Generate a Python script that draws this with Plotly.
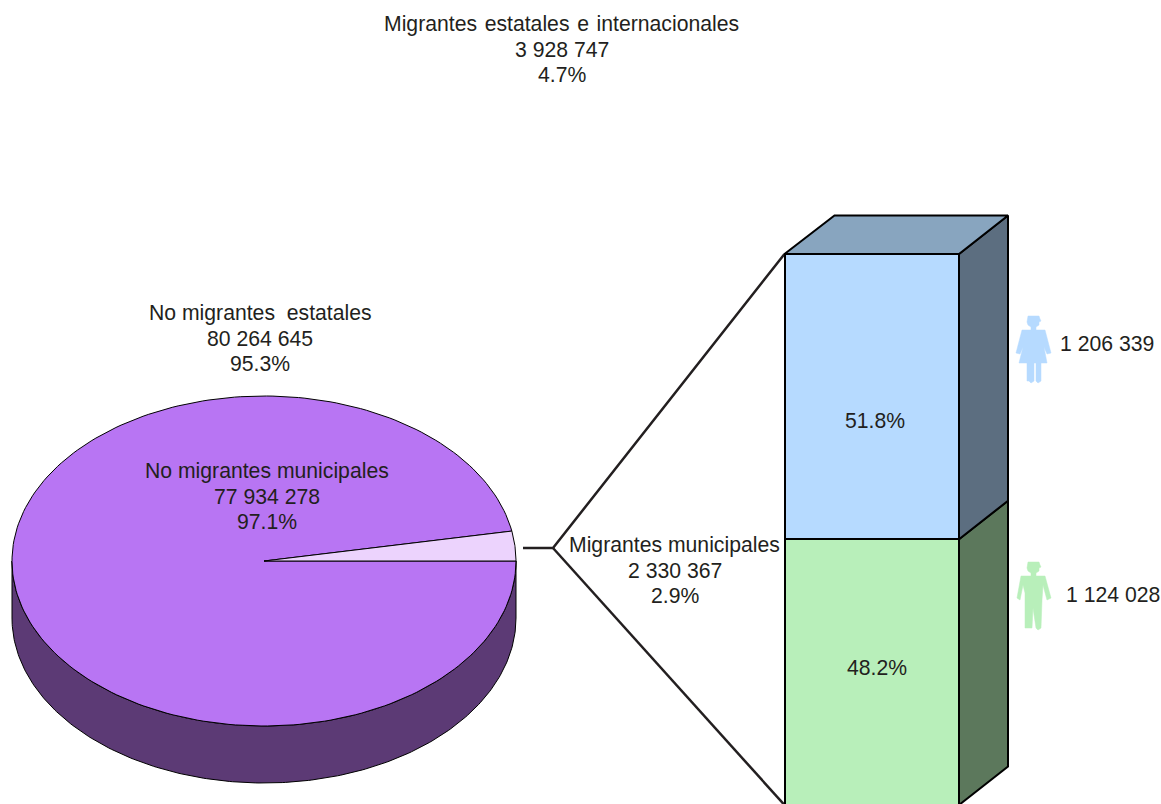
import numpy as np
import plotly.graph_objects as go

# Data
total_names = ["Migrantes estatales e internacionales", "No migrantes estatales"]
total_values = [3928747, 80264645]
pie_names = ["No migrantes municipales", "Migrantes municipales"]
pie_values = [77934278, 2330367]
bar_names = ["Hombres", "Mujeres"]
bar_values = [1124028, 1206339]

# Colors
ink = "#231F20"
pie_top = "#B875F3"
pie_sliver = "#ECD3FD"
pie_side = "#5C3A75"
bar_colors = ["#B8EFBA", "#B6DAFF"]
bar_sides = ["#5C785C", "#5C6E80"]
bar_cap = "#88A5BF"

# Page geometry, axes run in pixels
W, H = 1161, 804
cx, cy, rx, ry, depth = 264, 561, 252, 165, 57
bar_left, bar_right, bar_top, bar_bottom = 784.5, 959, 254, 805
off_x, off_y = 49, 38.5
fork_x, fork_y = 553, 548
line_gap = 25.5


def num(v):
    return f"{v:,}".replace(",", " ")


def pct(v, whole):
    return f"{100 * v / whole:.1f}%"


def ellipse(a0, a1, n=240, dy=0):
    t = np.radians(np.linspace(a0, a1, n))
    return cx + rx * np.cos(t), cy + dy - ry * np.sin(t)


def poly(x, y, fill, line=ink, width=1):
    return go.Scatter(x=list(x), y=list(y), mode="lines", fill="toself", fillcolor=fill,
                      line=dict(color=line, width=width), hoverinfo="skip", showlegend=False)


fig = go.Figure()

# pie wall
xa, ya = ellipse(180, 360)
xb, yb = ellipse(360, 180, dy=depth)
fig.add_trace(poly(np.r_[xa, xb, xa[0]], np.r_[ya, yb, ya[0]], pie_side, "#000000"))

# pie top, slices from the values
sliver_deg = 360 * pie_values[1] / sum(pie_values)
xs, ys = ellipse(sliver_deg, 360)
fig.add_trace(poly(np.r_[cx, xs, cx], np.r_[cy, ys, cy], pie_top, "#000000"))
xs, ys = ellipse(0, sliver_deg, n=30)
fig.add_trace(poly(np.r_[cx, xs, cx], np.r_[cy, ys, cy], pie_sliver, "#000000"))

# bar, 3d faces from the values
scale = (bar_bottom - bar_top) / sum(bar_values)
levels = bar_bottom - scale * np.cumsum([0] + bar_values)
for i in range(2):
    lo, hi = levels[i], levels[i + 1]
    fig.add_trace(poly([bar_right, bar_right + off_x, bar_right + off_x, bar_right, bar_right],
                       [lo, lo - off_y, hi - off_y, hi, lo], bar_sides[i], "#000000", 2))
fig.add_trace(poly([bar_left, bar_left + off_x + 1, bar_right + off_x, bar_right, bar_left],
                   [bar_top, bar_top - off_y, bar_top - off_y, bar_top, bar_top], bar_cap, "#000000", 2))

for i in range(2):
    fig.add_trace(go.Bar(x=[(bar_left + bar_right) / 2], y=[bar_values[i]], width=[bar_right - bar_left],
                         name=bar_names[i], yaxis="y2", marker=dict(color=bar_colors[i], line=dict(color="#000000", width=2)),
                         hoverinfo="skip", showlegend=False))

# fork joining pie and bar
fig.add_trace(go.Scatter(x=[523, fork_x, bar_left, None, fork_x, bar_left],
                         y=[fork_y, fork_y, bar_top, None, fork_y, bar_bottom],
                         mode="lines", line=dict(color=ink, width=2.5), hoverinfo="skip", showlegend=False))

# people icons
woman_x = [1028, 1039, 1040, 1041, 1039, 1039, 1036, 1036, 1045, 1051, 1047, 1044, 1047, 1041, 1041, 1038, 1036, 1036,
           1034, 1034, 1031, 1029, 1027, 1027, 1019, 1023, 1020, 1016, 1022, 1031, 1031, 1028, 1027, 1028]
woman_y = [316, 316, 319, 321, 322, 325, 327, 330, 330, 353, 354, 347, 363, 363, 381, 383, 381, 363,
           363, 381, 383, 381, 381, 363, 363, 347, 354, 353, 330, 330, 327, 325, 322, 316]
man_x = [1028, 1039, 1040, 1041, 1039, 1039, 1036, 1036, 1045, 1051, 1047, 1043, 1042, 1041, 1038, 1036, 1033, 1032,
         1025, 1025, 1023, 1020, 1017, 1021, 1031, 1031, 1028, 1027, 1028]
man_y = [562, 562, 565, 567, 568, 571, 573, 576, 576, 598, 600, 585, 600, 628, 630, 628, 608, 628,
         628, 593, 585, 600, 598, 576, 576, 573, 571, 568, 562]
fig.add_trace(poly(woman_x, woman_y, bar_colors[1], bar_colors[1], 0.5))
fig.add_trace(poly(man_x, man_y, bar_colors[0], bar_colors[0], 0.5))

# labels, one annotation per line to hold the tight leading
whole = sum(total_values)
labels = [
    (561.5, 24, [total_names[0].replace(" ", " \u200a"), num(total_values[0]), pct(total_values[0], whole)], "center"),
    (260, 313, ["No migrantes\u00a0 estatales", num(total_values[1]), pct(total_values[1], whole)], "center"),
    (266.5, 471, [pie_names[0], num(pie_values[0]), pct(pie_values[0], sum(pie_values))], "center"),
    (674.5, 545, [pie_names[1], num(pie_values[1]), pct(pie_values[1], sum(pie_values))], "center"),
    (875, 421, [pct(bar_values[1], sum(bar_values))], "center"),
    (877, 668, [pct(bar_values[0], sum(bar_values))], "center"),
    (1059, 344, [num(bar_values[1])], "left"),
    (1064.5, 595, [num(bar_values[0])], "left"),
]
for x, y, lines, anchor in labels:
    for k, text in enumerate(lines):
        fig.add_annotation(x=x, y=y - 0.5 + k * line_gap, text=text, xref="x", yref="y", xanchor=anchor, yanchor="middle",
                           showarrow=False, font=dict(size=21.2, color=ink), borderpad=0)

fig.update_layout(
    width=W, height=H, margin=dict(l=0, r=0, t=0, b=0),
    paper_bgcolor="white", plot_bgcolor="white", showlegend=False,
    barmode="stack",
    font=dict(family="Liberation Sans, Arial, sans-serif"),
    xaxis=dict(range=[0, W], visible=False, fixedrange=True),
    yaxis=dict(range=[H, 0], visible=False, fixedrange=True),
    yaxis2=dict(overlaying="y", range=[(bar_bottom - H) / scale, bar_bottom / scale],
                visible=False, fixedrange=True),
)

# default body margin would push the page 8px off
fig.write_html("out.html", config=dict(displayModeBar=False),
               post_script="document.body.style.margin = '0';")
